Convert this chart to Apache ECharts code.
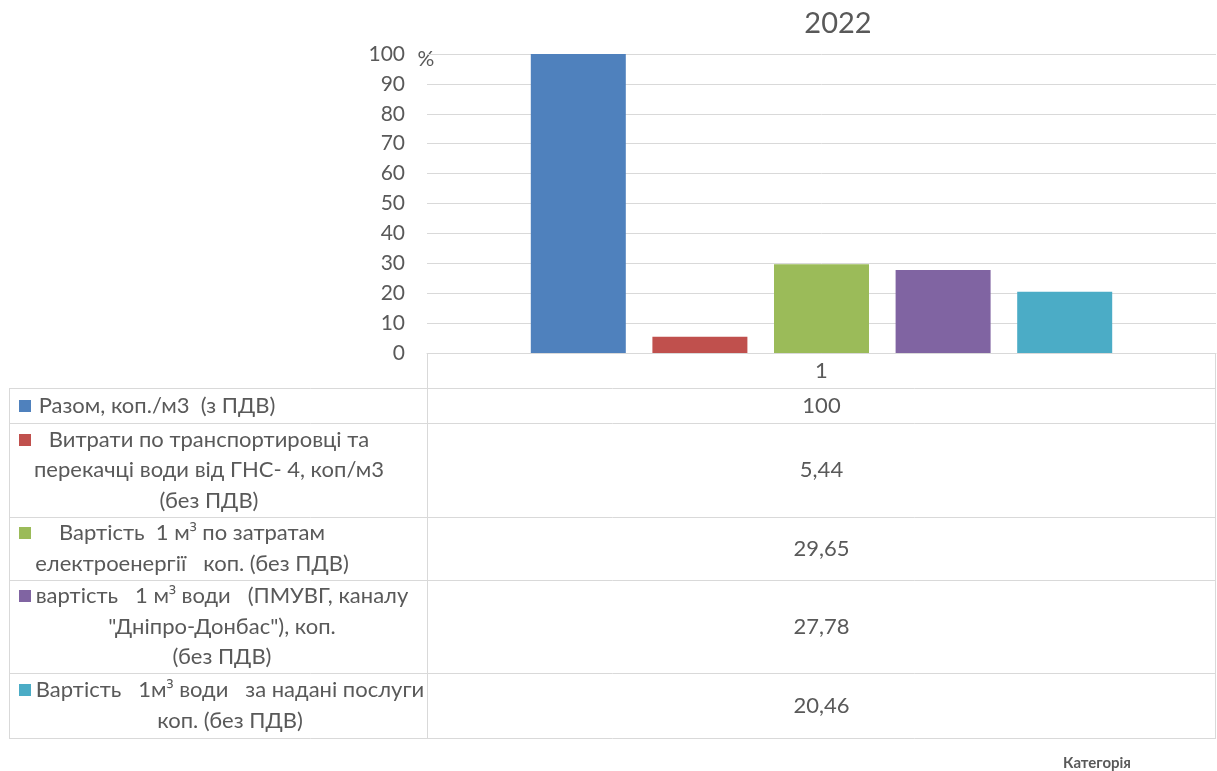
<!DOCTYPE html>
<html>
<head>
<meta charset="utf-8">
<title>2022</title>
<script src="https://cdn.jsdelivr.net/npm/echarts@6/dist/echarts.min.js"></script>
<style>
  html, body { margin: 0; padding: 0; background: #fff; }
  #chart { width: 1217px; height: 771px; }
</style>
</head>
<body>
<div id="chart"></div>
<script>
// Chart content
const chartTitle = '2022';
const categories = ['1'];
const seriesNames = [
  'Разом, коп./м3  (з ПДВ)',
  'Витрати по транспортировці та\nперекачці води від ГНС- 4, коп/м3\n(без ПДВ)',
  'Вартість  1 м³ по затратам\nелектроенергії   коп. (без ПДВ)',
  'вартість   1 м³ води   (ПМУВГ, каналу\n"Дніпро-Донбас"), коп.\n(без ПДВ)',
  'Вартість   1м³ води   за надані послуги\nкоп. (без ПДВ)'
];
const seriesValues = [100, 5.44, 29.65, 27.78, 20.46];
const seriesColors = ['#4F81BD', '#C0504D', '#9BBB59', '#8064A2', '#4BACC6'];
const yTicks = [0, 10, 20, 30, 40, 50, 60, 70, 80, 90, 100];
const unitLabel = '%';
const axisTitle = 'Категорія';

// Page layout
const grid = { left: 427, top: 54, right: 1216, bottom: 353 };
const tableLeft = 9;
const catRowBottom = 388;
const rowHeights = [35, 94, 63, 93, 65];
const labelCenterX = [157, 209, 192, 222, 230];
const lineH = 30.5;
const textColor = '#595959';
const lineColor = '#D9D9D9';
const font = 'Lato, "Open Sans", sans-serif';
const fs = 21;
const tfs = 22;

const chart = echarts.init(document.getElementById('chart'), null, { renderer: 'canvas' });

const fmt = v => String(v).replace('.', ',');

// the superscript three looks tiny in Lato, so it is set in Open Sans
const richText = t => t.replace(/([^³]+)|(³)/g, (m, a, b) => a ? '{n|' + a + '}' : '{s|³}');
const richStyles = {
  n: { fontFamily: font, fontSize: tfs, fill: textColor, lineHeight: lineH },
  s: { fontFamily: '"Open Sans"', fontSize: tfs - 2, fill: textColor, lineHeight: lineH }
};

function tableGraphics() {
  const g = [];
  const line = (x1, y1, x2, y2) => g.push({
    type: 'line', silent: true,
    shape: { x1, y1, x2, y2 },
    style: { stroke: lineColor, lineWidth: 1 }
  });
  const colCenter = (grid.left + grid.right) / 2;
  let y = catRowBottom;
  const tableBottom = catRowBottom + rowHeights.reduce((a, b) => a + b, 0);
  line(tableLeft + 0.5, y, tableLeft + 0.5, tableBottom);
  line(grid.left + 0.5, grid.bottom, grid.left + 0.5, tableBottom);
  line(grid.right - 0.5, grid.bottom, grid.right - 0.5, tableBottom);
  line(tableLeft, y + 0.5, grid.right, y + 0.5);
  seriesNames.forEach((name, i) => {
    const h = rowHeights[i];
    const cy = y + h / 2;
    const lines = name.split('\n');
    const firstY = cy - (lines.length - 1) * lineH / 2;
    g.push({
      type: 'rect', silent: true,
      shape: { x: 19, y: Math.round(firstY - 6), width: 12, height: 12 },
      style: { fill: seriesColors[i] }
    });
    lines.forEach((t, k) => g.push({
      type: 'text', silent: true,
      x: labelCenterX[i], y: firstY + k * lineH,
      style: { text: richText(t), rich: richStyles, align: 'center', verticalAlign: 'middle' }
    }));
    g.push({
      type: 'text', silent: true,
      x: colCenter, y: cy,
      style: { text: fmt(seriesValues[i]), font: tfs + 'px ' + font, fill: textColor, align: 'center', verticalAlign: 'middle' }
    });
    y += h;
    line(tableLeft, y + 0.5, grid.right, y + 0.5);
  });
  // chart title, unit and axis caption
  g.push({
    type: 'text', silent: true, x: 838, y: 24,
    style: { text: chartTitle, font: '29px ' + font, fill: textColor, align: 'center', verticalAlign: 'middle' }
  });
  g.push({
    type: 'text', silent: true, x: 426, y: 59,
    style: { text: unitLabel, font: fs + 'px ' + font, fill: textColor, align: 'center', verticalAlign: 'middle' }
  });
  g.push({
    type: 'text', silent: true, x: 1097, y: 763,
    style: { text: axisTitle, font: 'bold 15px ' + font, fill: textColor, align: 'center', verticalAlign: 'middle' }
  });
  return g;
}

const option = {
  animation: false,
  backgroundColor: '#fff',
  grid: {
    left: grid.left, top: grid.top,
    width: grid.right - grid.left, height: grid.bottom - grid.top,
    containLabel: false
  },
  xAxis: {
    type: 'category',
    data: categories,
    axisLine: { show: true, lineStyle: { color: lineColor, width: 1 } },
    axisTick: { show: false },
    axisLabel: { margin: 7, fontSize: tfs, color: textColor, fontFamily: font }
  },
  yAxis: {
    type: 'value',
    min: yTicks[0], max: yTicks[yTicks.length - 1], interval: yTicks[1] - yTicks[0],
    axisLine: { show: false },
    axisTick: { show: false },
    splitLine: { lineStyle: { color: lineColor, width: 1 } },
    axisLabel: { margin: 22, fontSize: fs, color: textColor, fontFamily: font }
  },
  series: seriesNames.map((name, i) => ({
    type: 'bar',
    name,
    data: [seriesValues[i]],
    barWidth: 95,
    barGap: '28%',
    itemStyle: { color: seriesColors[i] }
  })),
  graphic: tableGraphics()
};

chart.setOption(option);
</script>
</body>
</html>
